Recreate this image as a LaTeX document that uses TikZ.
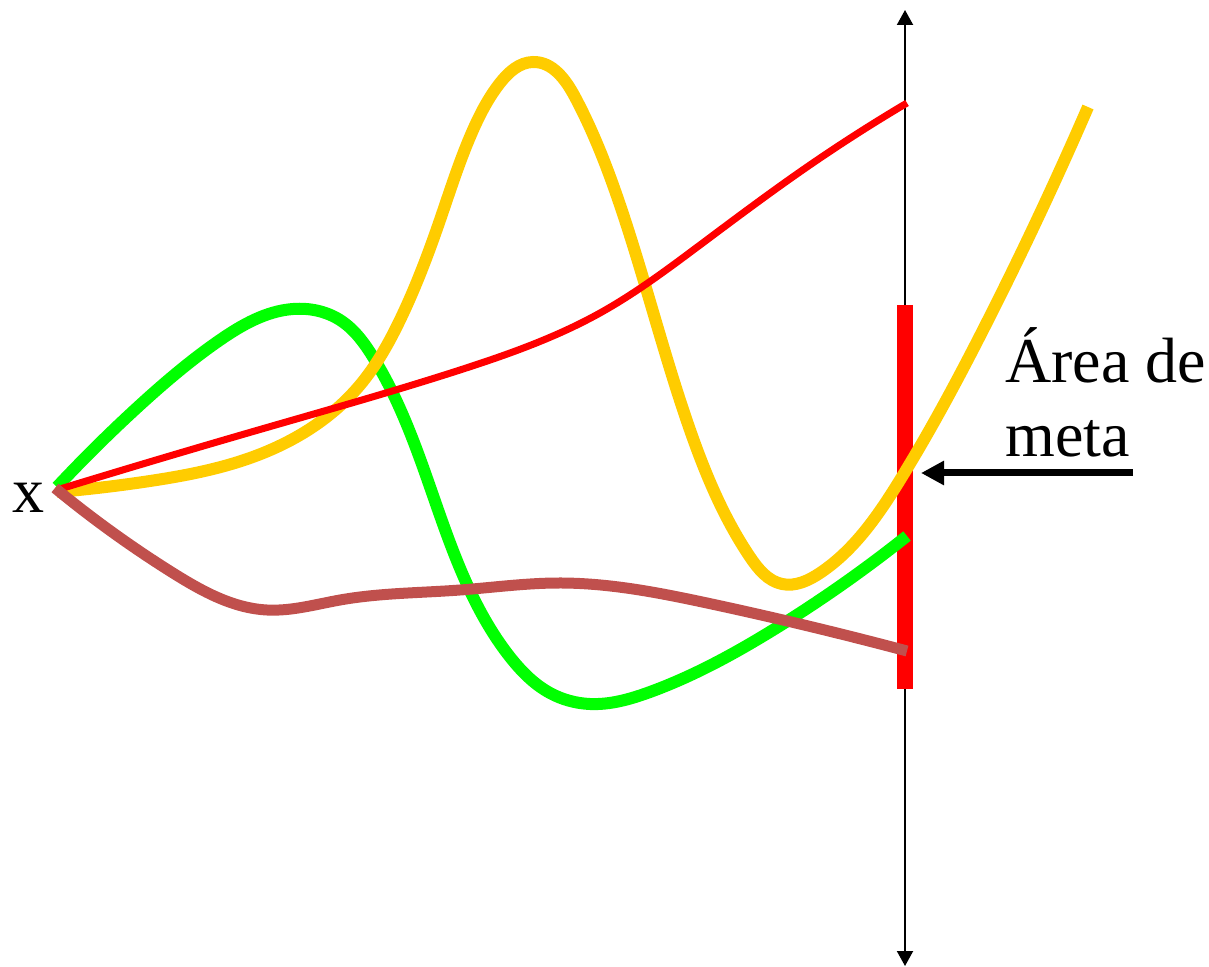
\documentclass[tikz,border=0pt]{standalone}
\usepackage{fontspec}
\setmainfont{Liberation Serif}
\usepackage{tikz}
\usetikzlibrary{arrows.meta,positioning,hobby}

\begin{document}
\begin{tikzpicture}[x=0.5pt,y=-0.5pt,use Hobby shortcut,
		curva/.style={line width=#1},
		texto/.style={inner sep=0pt, font=\fontsize{32}{38}\selectfont}]
			\useasboundingbox (0,0) rectangle (1209,967);
			\definecolor{verde}{HTML}{00FF00}
			\definecolor{amarillo}{HTML}{FFCC00}
			\definecolor{rojo}{HTML}{FF0000}
			\definecolor{cafe}{HTML}{C0504D}

			\coordinate (ejeA) at (905,10);
			\coordinate (ejeB) at (905,966);
			\coordinate (metaA) at (905,305);
			\coordinate (metaB) at (905,689);
			\node[texto, anchor=base] (x) at (28,513) {x};
			\node[texto, anchor=base west] (area) at (1005,383) {Área de};
			\node[texto, anchor=base west] (meta) at (1005,457) {meta};
			\coordinate (flechaA) at (1133,473);
			\coordinate (flechaB) at (921,473);

			\draw[line width=1pt, {Triangle[width=8pt,length=7.5pt]}-{Triangle[width=8pt,length=7.5pt]}] (ejeA) -- (ejeB);
			\draw[rojo, line width=8pt] (metaA) -- (metaB);

			\draw[verde, curva=6pt] (57,487) .. (140,405) .. (220,340) .. (293,309) .. (340,320) .. (373,357) .. (423,467) .. (473,597) .. (510,657) .. (550,693) .. (590,704) .. (650,692) .. (773,630) .. (907,536);
			\draw[amarillo, curva=6pt] (57,492) .. (150,481) .. (250,458) .. (320,422) .. (360,385) .. (400,320) .. (440,220) .. (473,130) .. (500,83) .. (533,62) .. (575,97) .. (620,205) .. (690,430) .. (750,557) .. (782,584) .. (820,573) .. (900,480) .. (983,330) .. (1088,107);
			\draw[rojo, curva=3.5pt] (60,489) .. (260,429.5) .. (460,370) .. (600,313) .. (700,245) .. (807,167) .. (907,103);
			\draw[cafe, curva=5.5pt] (55,488) .. (173,573) .. (267,610) .. (340,600) .. (460,590) .. (557,583) .. (707,603) .. (907,651);

			\draw[line width=3.5pt, -{Triangle[width=11.5pt,length=11.5pt]}] (flechaA) -- (flechaB);
		\end{tikzpicture}
\end{document}
